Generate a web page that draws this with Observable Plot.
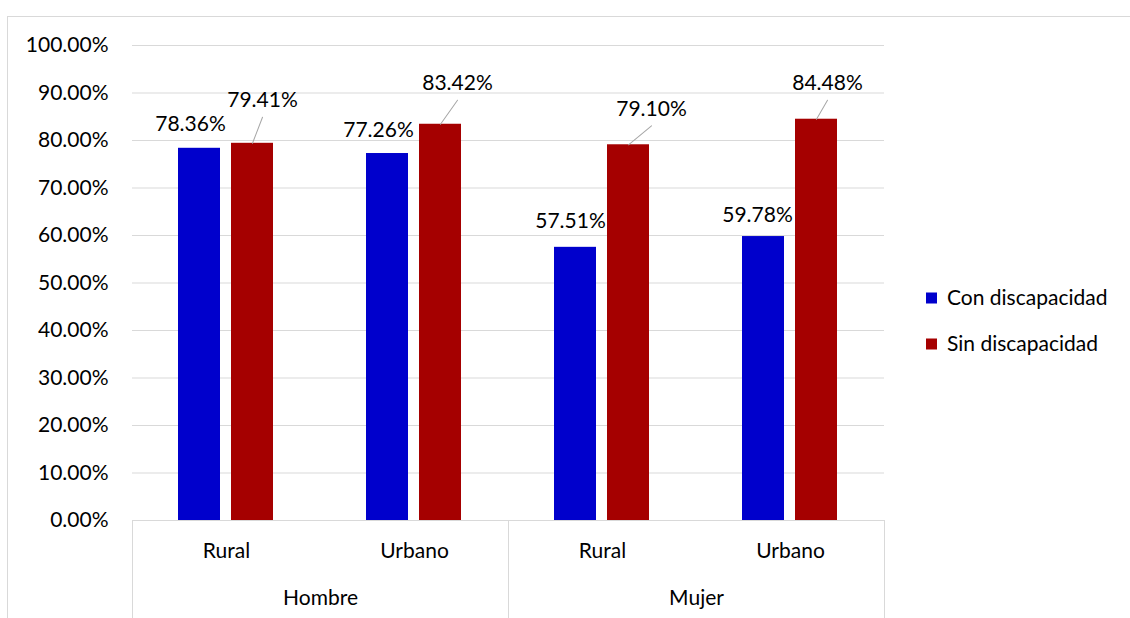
<!DOCTYPE html>
<html>
<head>
<meta charset="utf-8">
<script src="https://cdn.jsdelivr.net/npm/d3@7"></script>
<script src="https://cdn.jsdelivr.net/npm/@observablehq/plot@0.6"></script>
<style>
  html, body { margin: 0; padding: 0; background: #fff; }
  #chart { width: 1130px; height: 618px; overflow: hidden; }
</style>
</head>
<body>
<div id="chart"></div>
<script>
// ---- Data ----
const sexes = ["Hombre", "Hombre", "Mujer", "Mujer"];
const areas = ["Rural", "Urbano", "Rural", "Urbano"];
const seriesNames = ["Con discapacidad", "Sin discapacidad"];
const conValues = [78.36, 77.26, 57.51, 59.78];
const sinValues = [79.41, 83.42, 79.10, 84.48];
const yTicks = [0, 10, 20, 30, 40, 50, 60, 70, 80, 90, 100];

// ---- Styles / layout ----
const seriesColors = ["#0000CC", "#A50000"];
const conLabelOffsets = [[-9, -24], [-9, -23], [-5, -26], [-6, -21]];
const sinLabelOffsets = [[10, -43], [17, -41], [23, -36], [11, -36]];
const W = 1130, H = 618;
const M = {left: 132, right: 246, top: 45, bottom: 98};
const gridColor = "#d9d9d9";
const FONT = "Lato, 'Open Sans', sans-serif";
const FS = 21;

const cols = sexes.map((s, i) => s + "|" + areas[i]);
const rows = [];
cols.forEach((c, i) => {
  rows.push({col: c, series: seriesNames[0], value: conValues[i], off: conLabelOffsets[i], leader: false});
  rows.push({col: c, series: seriesNames[1], value: sinValues[i], off: sinLabelOffsets[i], leader: true});
});
const colRows = cols.map((c, i) => ({col: c, sex: sexes[i], area: areas[i]}));
const pct = v => v.toFixed(2) + "%";

const leaderShape = {
  draw(context, l) { context.moveTo(0, 0); context.lineTo(0, -l); }
};

const plot = Plot.plot({
  width: W,
  height: H,
  marginLeft: M.left,
  marginRight: M.right,
  marginTop: M.top,
  marginBottom: M.bottom,
  style: {fontFamily: FONT, fontSize: FS + "px", color: "#000", background: "transparent"},
  fx: {domain: cols, padding: 0, axis: null},
  x: {domain: seriesNames, paddingInner: 0.2075, paddingOuter: 0.877, axis: null},
  y: {domain: [0, 100]},
  color: {domain: seriesNames, range: seriesColors},
  length: {type: "identity"},
  marks: [
    Plot.gridY(yTicks, {stroke: gridColor, strokeOpacity: 1}),
    Plot.axisY(yTicks, {tickSize: 0, tickPadding: 24, tickFormat: pct, label: null, fontSize: FS}),
    Plot.barY(rows, {fx: "col", x: "series", y: "value", fill: "series"}),
    Plot.ruleY([0], {stroke: gridColor}),
    ...rows.map(r => Plot.text([r], {
      fx: "col", x: "series", y: "value", text: d => pct(d.value),
      dx: r.off[0], dy: r.off[1], fontSize: FS, fill: "#000", lineAnchor: "middle"
    })),
    Plot.vector(rows.filter(r => r.leader), {
      fx: "col", x: "series", y: "value",
      length: d => Math.hypot(d.off[0], d.off[1] + 17),
      rotate: d => Math.atan2(d.off[0], -(d.off[1] + 17)) * 180 / Math.PI,
      anchor: "start", shape: leaderShape, stroke: "#a6a6a6", strokeWidth: 1
    }),
    Plot.text(colRows, {fx: "col", frameAnchor: "bottom", lineAnchor: "middle", dy: 31, text: "area", fontSize: FS, fill: "#000"}),
    Plot.text(colRows.filter(d => d.area === "Rural"), {
      fx: "col", frameAnchor: "bottom-right", textAnchor: "middle", lineAnchor: "middle", dy: 78, text: "sex", fontSize: FS, fill: "#000"
    })
  ]
});

const svg = d3.select(plot);
const fxScale = plot.scale("fx");
const yScale = plot.scale("y");
const colorScale = plot.scale("color");
const y0 = yScale.apply(0);

// chart-area border
svg.insert("rect", ":first-child")
  .attr("x", 7.5).attr("y", 16.5).attr("width", W).attr("height", H)
  .attr("fill", "none").attr("stroke", gridColor);
svg.insert("rect", ":first-child")
  .attr("x", 0).attr("y", 0).attr("width", W).attr("height", H).attr("fill", "#fff");

// category separators below the axis
const sepX = [fxScale.apply(cols[0]), fxScale.apply(cols[2]), fxScale.apply(cols[3]) + fxScale.bandwidth];
svg.append("g").selectAll("line").data(sepX).join("line")
  .attr("x1", d => Math.round(d) + 0.5).attr("x2", d => Math.round(d) + 0.5)
  .attr("y1", y0).attr("y2", H)
  .attr("stroke", gridColor);

// legend
const legendX = 926, legendY0 = 298, legendStep = 46;
const lg = svg.append("g").attr("font-family", FONT).attr("font-size", FS).attr("text-anchor", "start");
seriesNames.forEach((s, i) => {
  const cy = legendY0 + i * legendStep;
  lg.append("rect").attr("x", legendX).attr("y", cy - 5.5).attr("width", 11).attr("height", 11)
    .attr("fill", colorScale.apply(s));
  lg.append("text").attr("x", legendX + 21).attr("y", cy).attr("dy", "0.35em")
    .attr("text-anchor", "start").attr("fill", "#000").text(s);
});

document.getElementById("chart").appendChild(plot);
</script>
</body>
</html>
